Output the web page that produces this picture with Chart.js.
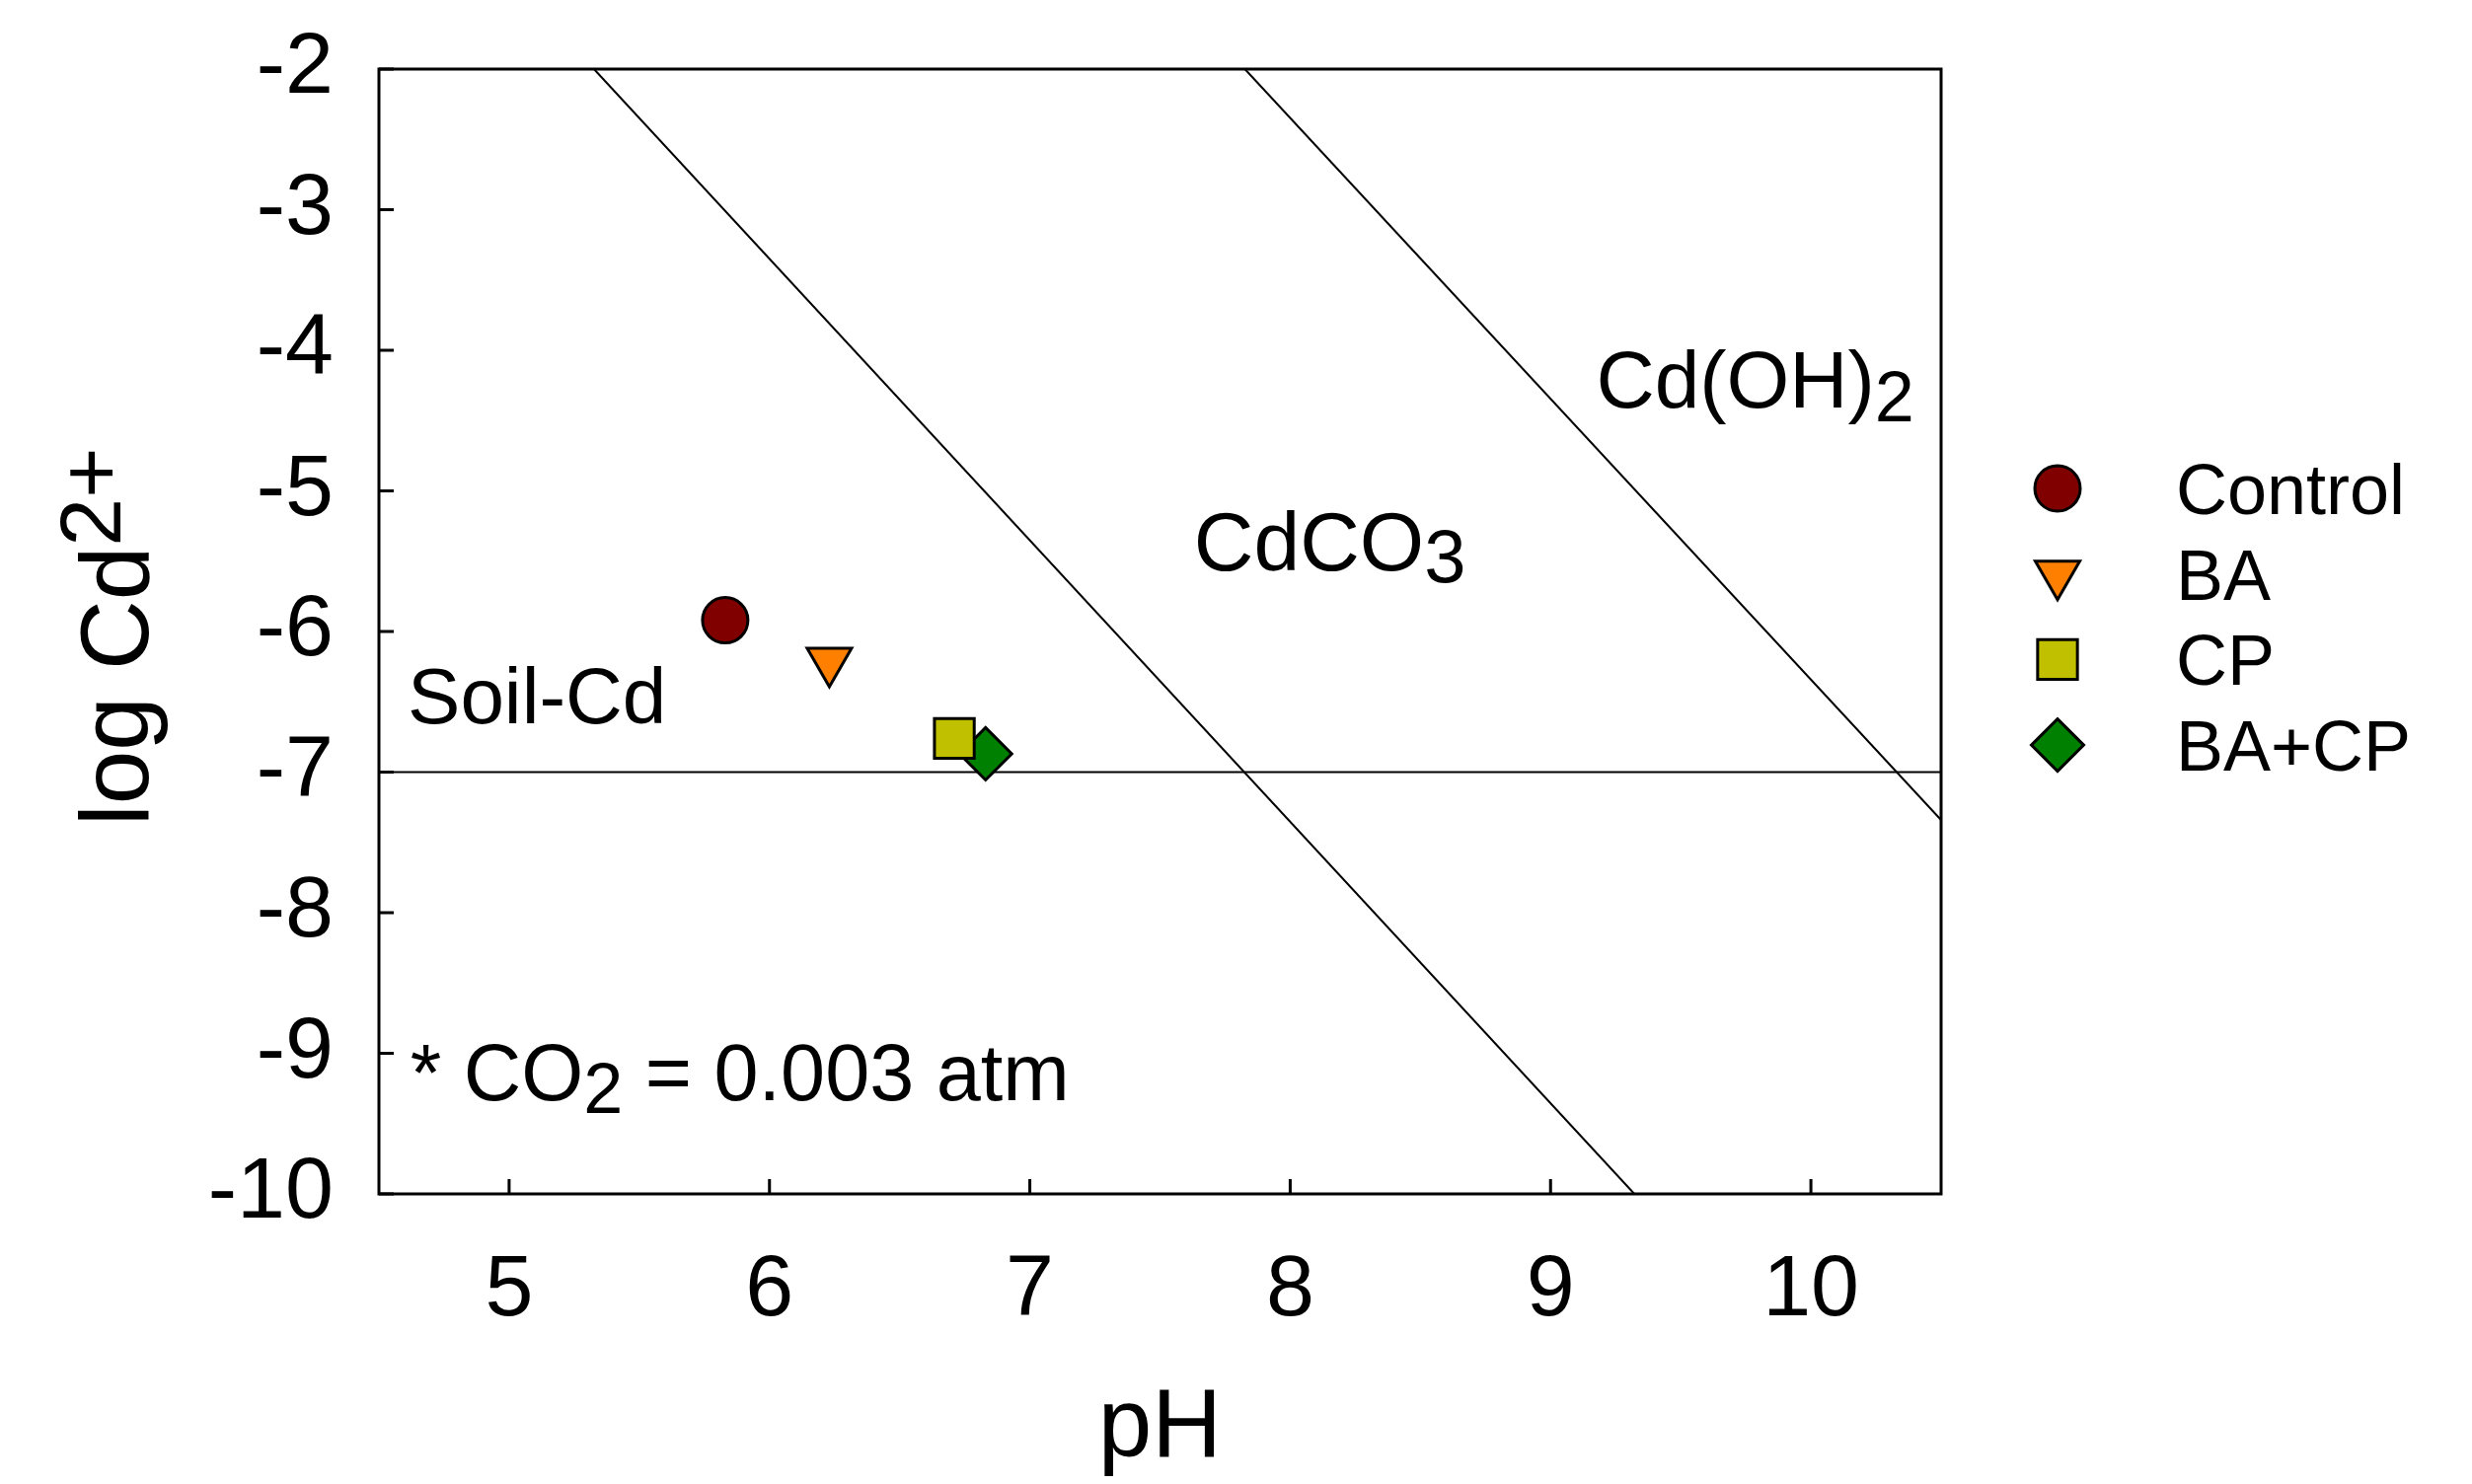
<!DOCTYPE html>
<html>
<head>
<meta charset="utf-8">
<title>Cd stability diagram</title>
<script src="https://cdn.jsdelivr.net/npm/chart.js@4.4.0/dist/chart.umd.min.js"></script>
<style>
    html, body { margin: 0; padding: 0; background: #fff; }
    #chart { display: block; }
</style>
</head>
<body>
<canvas id="chart" width="2505" height="1504"></canvas>
<script>
/* Cd2+ solubility vs pH with treatment points */

// axis ticks
var phTicks = [5, 6, 7, 8, 9, 10];
var logTicks = [-2, -3, -4, -5, -6, -7, -8, -9, -10];

// treatments (one marker each)
var treatments = ['Control', 'BA', 'CP', 'BA+CP'];
var treatmentPH = [5.83, 6.23, 6.71, 6.83];
var treatmentLogCd = [-5.92, -6.21, -6.76, -6.87];
var treatmentColors = ['#800000', '#ff8000', '#c0c000', '#008000'];
var treatmentStyles = ['circle', 'triangle', 'rect', 'rectRot'];
var treatmentRotation = [0, 180, 0, 0];
var treatmentRadius = [23, 26, 28.5, 26.5];

// boundary lines
var soilCdPH = [4.5, 10.5];
var soilCdLog = [-7, -7];
var cdco3PH = [5.326, 9.322];
var cdco3Log = [-2, -10];
var cdoh2PH = [7.826, 10.5];
var cdoh2Log = [-2, -7.34];

// field labels, anchored in data units (pH, log Cd)
var fieldLabelPH = [4.61, 7.63, 9.175, 4.62];
var fieldLabelLog = [-6.653, -5.565, -4.407, -9.333];
var fieldLabelParts = [
    [{ t: 'Soil-Cd', s: 80 }],
    [{ t: 'CdCO', s: 84 }, { t: '3', s: 76, dy: 12 }],
    [{ t: 'Cd(OH)', s: 82 }, { t: '2', s: 72, dy: 14 }],
    [{ t: '* CO', s: 81 }, { t: '2', s: 72, dy: 13 }, { t: ' = 0.003 atm', s: 81 }]
];

var FONT = '"Liberation Sans", Arial, Helvetica, sans-serif';

function toXY(xs, ys) {
    return xs.map(function (v, i) { return { x: v, y: ys[i] }; });
}

var datasets = [];
treatments.forEach(function (name, i) {
    datasets.push({
        label: name,
        isTreatment: true,
        data: [{ x: treatmentPH[i], y: treatmentLogCd[i] }],
        pointStyle: treatmentStyles[i],
        rotation: treatmentRotation[i],
        pointRadius: treatmentRadius[i],
        pointHoverRadius: treatmentRadius[i],
        backgroundColor: treatmentColors[i],
        borderColor: '#000',
        borderWidth: 3,
        order: 0
    });
});
[[soilCdPH, soilCdLog, 'Soil-Cd'], [cdco3PH, cdco3Log, 'CdCO3'], [cdoh2PH, cdoh2Log, 'Cd(OH)2']].forEach(function (l) {
    datasets.push({
        label: l[2],
        data: toXY(l[0], l[1]),
        showLine: true,
        pointRadius: 0,
        borderColor: '#000',
        borderWidth: 2,
        fill: false,
        order: 1
    });
});

function drawRich(ctx, parts, x, y) {
    var cx = x;
    parts.forEach(function (p) {
        ctx.font = p.s + 'px ' + FONT;
        ctx.fillText(p.t, cx, y + (p.dy || 0));
        cx += ctx.measureText(p.t).width;
    });
}

// box round the plot and inward tick marks
var frameAndTicks = {
    id: 'frameAndTicks',
    afterDatasetsDraw: function (chart) {
        var ctx = chart.ctx, a = chart.chartArea;
        var xs = chart.scales.x, ys = chart.scales.y;
        ctx.save();
        ctx.strokeStyle = '#000';
        ctx.lineWidth = 3;
        ctx.strokeRect(a.left, a.top, a.right - a.left, a.bottom - a.top);
        ctx.beginPath();
        phTicks.forEach(function (v) {
            var px = xs.getPixelForValue(v);
            ctx.moveTo(px, a.bottom);
            ctx.lineTo(px, a.bottom - 15);
        });
        logTicks.forEach(function (v) {
            var py = ys.getPixelForValue(v);
            ctx.moveTo(a.left, py);
            ctx.lineTo(a.left + 15, py);
        });
        ctx.stroke();
        ctx.restore();
    }
};

// texts inside the plot and the y title with superscript
var textLayer = {
    id: 'textLayer',
    afterDraw: function (chart) {
        var ctx = chart.ctx;
        var xs = chart.scales.x, ys = chart.scales.y;
        ctx.save();
        ctx.fillStyle = '#000';
        ctx.textAlign = 'left';
        ctx.textBaseline = 'alphabetic';
        fieldLabelParts.forEach(function (parts, i) {
            drawRich(ctx, parts, xs.getPixelForValue(fieldLabelPH[i]), ys.getPixelForValue(fieldLabelLog[i]));
        });

        // y axis title
        var midY = (chart.chartArea.top + chart.chartArea.bottom) / 2;
        ctx.translate(150, midY + 197);
        ctx.rotate(-Math.PI / 2);
        drawRich(ctx, [{ t: 'log Cd', s: 98 }, { t: '2+', s: 88, dy: -28 }], 0, 0);
        ctx.restore();
    }
};

// legend on the right, same markers as the plot
var sideLegend = {
    id: 'sideLegend',
    afterDraw: function (chart) {
        var ctx = chart.ctx;
        var a = chart.chartArea;
        var mx = a.right + 118, tx = a.right + 238;
        var y0 = 495, step = 86.7;
        ctx.save();
        chart.data.datasets.filter(function (d) { return d.isTreatment; }).forEach(function (d, i) {
            var y = y0 + i * step;
            ctx.fillStyle = d.backgroundColor;
            ctx.strokeStyle = d.borderColor;
            ctx.lineWidth = d.borderWidth;
            Chart.helpers.drawPoint(ctx, {
                pointStyle: d.pointStyle,
                rotation: d.rotation,
                radius: d.pointRadius,
                borderWidth: d.borderWidth
            }, mx, y);
            ctx.fillStyle = '#000';
            ctx.font = '72px ' + FONT;
            ctx.textAlign = 'left';
            ctx.textBaseline = 'alphabetic';
            ctx.fillText(d.label, tx, y + 26);
        });
        ctx.restore();
    }
};

new Chart(document.getElementById('chart'), {
    type: 'scatter',
    data: { datasets: datasets },
    plugins: [frameAndTicks, textLayer, sideLegend],
    options: {
        responsive: false,
        animation: false,
        devicePixelRatio: 1,
        layout: { padding: { top: 70, right: 538, left: 0, bottom: 0 } },
        plugins: {
            legend: { display: false },
            tooltip: { enabled: false }
        },
        scales: {
            x: {
                type: 'linear',
                min: 4.5,
                max: 10.5,
                afterBuildTicks: function (s) { s.ticks = phTicks.map(function (v) { return { value: v }; }); },
                afterFit: function (s) { s.height = 294; },
                grid: { display: false, drawTicks: false },
                border: { display: false },
                ticks: {
                    color: '#000',
                    padding: 46,
                    font: { family: FONT, size: 88 },
                    callback: function (v) { return String(v); }
                },
                title: {
                    display: true,
                    text: 'pH',
                    color: '#000',
                    font: { family: FONT, size: 98, lineHeight: 1 },
                    padding: { top: 0, bottom: 6 }
                }
            },
            y: {
                type: 'linear',
                min: -10,
                max: -2,
                afterBuildTicks: function (s) { s.ticks = logTicks.map(function (v) { return { value: v }; }); },
                afterFit: function (s) {
                    s.width = 384;
                    s.paddingTop = 0;
                    s.paddingBottom = 0;
                },
                grid: { display: false, drawTicks: false },
                border: { display: false },
                ticks: {
                    color: '#000',
                    padding: 46,
                    font: { family: FONT, size: 88 },
                    callback: function (v) { return String(v); }
                }
            }
        }
    }
});
</script>
</body>
</html>
